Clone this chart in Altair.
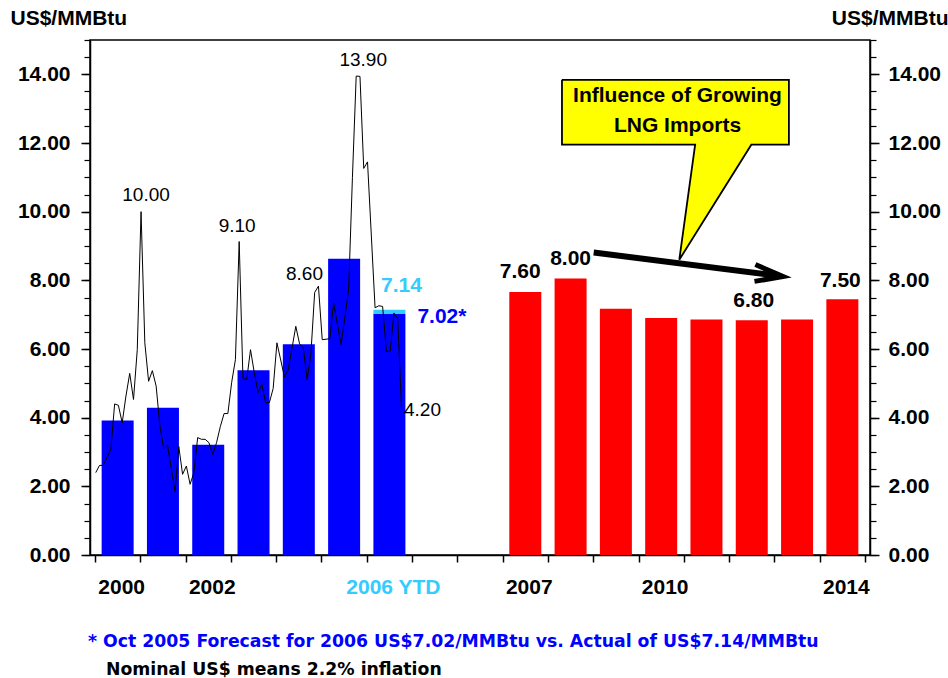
import altair as alt
import pandas as pd

FONT = "Liberation Sans"
FOOT_FONT = "DejaVu Sans"
BLUE = "#0000FF"
RED = "#FF0000"
CYAN = "#33CCFF"
YELLOW = "#FFFF00"

# ---- data ----
actual_years = ["2000", "2001", "2002", "2003", "2004", "2005", "2006 YTD"]
actual_values = [3.92, 4.29, 3.21, 5.38, 6.14, 8.63, 7.02]
actual_2006_final = 7.14

forecast_years = ["2007", "2008", "2009", "2010", "2011", "2012", "2013", "2014"]
forecast_values = [7.66, 8.05, 7.17, 6.90, 6.86, 6.84, 6.86, 7.45]
GAP_SLOTS = 2

# monthly prices, months counted from Jan 2000
month_index = [0, 1, 2, 4, 5, 6, 7, 8, 9, 10, 11, 12, 13, 14, 15, 16, 17, 18, 19,
               21, 22, 23, 24, 25, 26, 27, 28, 29, 30, 31, 32, 33, 34, 35, 36, 37, 38,
               39, 40, 41, 42, 43, 44, 45, 46, 47, 48, 50, 51, 53, 54, 55, 56, 57, 58,
               59, 60, 62, 63, 65, 67, 68, 69, 70, 71, 72, 74, 75, 76, 77, 78, 79, 80, 81]
month_values = [2.40, 2.61, 2.61, 3.08, 4.40, 4.36, 3.85, 4.63, 5.29, 4.53, 5.98, 10.00,
                6.18, 5.06, 5.37, 4.92, 3.76, 3.10, 3.21,
                1.84, 3.16, 2.35, 2.59, 2.06, 2.40, 3.42, 3.37, 3.37, 3.27, 2.93, 3.27,
                3.74, 4.12, 4.12, 5.02, 5.69, 9.13, 5.14, 5.11, 5.98, 5.31, 4.73, 4.97,
                4.44, 4.44, 4.85, 6.18, 5.18, 5.40, 6.66, 6.15, 6.03, 5.11, 5.86, 7.65,
                7.83, 6.27, 6.30, 7.34, 6.13, 7.73, 11.0, 13.95, 13.94, 11.26, 11.45,
                7.20, 7.26, 7.24, 5.93, 5.93, 7.05, 6.88, 4.30]

peak_labels = ["10.00", "9.10", "8.60", "13.90", "4.20"]
peak_months = [12, 38, 59, 69, 81]

forecast_label_years = ["2007", "2008", "2012", "2014"]
forecast_labels = ["7.60", "8.00", "6.80", "7.50"]

tick_label_years = ["2000", "2002", "2006 YTD", "2007", "2010", "2014"]

footnote_1 = "* Oct 2005 Forecast for 2006 US$7.02/MMBtu vs. Actual of US$7.14/MMBtu"
footnote_2 = "Nominal US$ means 2.2% inflation"
callout_text = ["Influence of Growing", "LNG Imports"]
unit_title = "US$/MMBtu"

# ---- tables ----
slot_of = {y: i for i, y in enumerate(actual_years)}
slot_of.update({y: len(actual_years) + GAP_SLOTS + i for i, y in enumerate(forecast_years)})
N_SLOTS = len(actual_years) + GAP_SLOTS + len(forecast_years)

actual_df = pd.DataFrame({"slot": [slot_of[y] for y in actual_years], "value": actual_values})
forecast_df = pd.DataFrame({"slot": [slot_of[y] for y in forecast_years], "value": forecast_values})
cap_df = pd.DataFrame({"slot": [slot_of["2006 YTD"]], "lo": [actual_values[-1]], "hi": [actual_2006_final]})
month_df = pd.DataFrame({"slot": [-0.5 + (m + 0.2) / 12 for m in month_index], "value": month_values})
month_lookup = dict(zip(month_index, month_values))

X = alt.Scale(domain=[-0.5, N_SLOTS - 0.5], nice=False, zero=False)
Y = alt.Scale(domain=[0, 15], nice=False, zero=True)

def xq(axis=None):
    return alt.X("slot:Q", scale=X, axis=axis)

def yq(field="value", axis=None):
    return alt.Y(f"{field}:Q", scale=Y, axis=axis)

x_axis = alt.Axis(values=[-0.5 + i for i in range(N_SLOTS + 1)], labels=False, tickSize=7,
                  tickColor="black", tickWidth=1.5, domainColor="black", domainWidth=1.5,
                  grid=False, title=None)

blue = alt.Chart(actual_df).mark_bar(color=BLUE, size=32).encode(x=xq(x_axis), y=yq())
cap = alt.Chart(cap_df).mark_bar(color=CYAN, size=32).encode(x=xq(), y=yq("lo"), y2="hi:Q")
red = alt.Chart(forecast_df).mark_bar(color=RED, size=32).encode(x=xq(), y=yq())
line = alt.Chart(month_df).mark_line(color="black", strokeWidth=1).encode(x=xq(), y=yq())

# y axes (left and right), carried by invisible layers
def axis_layer(orient, major):
    if major:
        ax = alt.Axis(orient=orient, values=list(range(0, 15, 2)), format=".2f", tickSize=9,
                      tickColor="black", tickWidth=1.5, domainColor="black", domainWidth=1.5,
                      labelFont=FONT, labelFontSize=21, labelFontWeight="bold", labelColor="black",
                      labelPadding=11 if orient == "left" else 9, grid=False,
                      title=unit_title, titleAngle=0, titleFont=FONT, titleFontSize=21,
                      titleFontWeight="bold", titleColor="black",
                      titleX=-80 if orient == "left" else 78, titleY=-22,
                      titleAlign="left" if orient == "left" else "right", titleBaseline="middle")
    else:
        ax = alt.Axis(orient=orient, values=[0.5 * i for i in range(31)], tickSize=6,
                      tickColor="black", tickWidth=1.2, domain=False, labels=False,
                      grid=False, title=None)
    return alt.Chart(actual_df).mark_point(opacity=0).encode(x=xq(), y=yq(axis=ax))

axes = [axis_layer(o, m) for o in ("left", "right") for m in (True, False)]

# x tick labels
tick_df = pd.DataFrame({"slot": [slot_of[y] for y in tick_label_years], "label": tick_label_years})
xlabels = alt.Chart(tick_df).mark_text(font=FONT, fontSize=21, fontWeight="bold", dx=4,
                                       baseline="middle", align="center").encode(
    x=xq(), y=alt.value(548), text="label:N",
    color=alt.condition(alt.datum.label == "2006 YTD", alt.value(CYAN), alt.value("black")))

# peak labels on monthly line
peak_offsets = [(5, -17), (-2, -16), (-14, -12), (7, -16), (21, 3)]
peak_layers = []
for lab, m, (dx, dy) in zip(peak_labels, peak_months, peak_offsets):
    d = pd.DataFrame({"slot": [-0.5 + (m + 0.2) / 12], "value": [month_lookup[m]], "t": [lab]})
    peak_layers.append(alt.Chart(d).mark_text(font=FONT, fontSize=19, color="black", dx=dx, dy=dy,
                                              align="center", baseline="middle").encode(
        x=xq(), y=yq(), text="t:N"))

# bar labels
bar_label_layers = []
fc_offsets = [(-5, -20), (0, -20), (2, -19), (-2, -18)]
for yr, lab, (dx, dy) in zip(forecast_label_years, forecast_labels, fc_offsets):
    d = pd.DataFrame({"slot": [slot_of[yr]], "value": [forecast_values[forecast_years.index(yr)]], "t": [lab]})
    bar_label_layers.append(alt.Chart(d).mark_text(font=FONT, fontSize=21, fontWeight="bold",
                                                   color="black", dx=dx, dy=dy,
                                                   align="center", baseline="middle").encode(
        x=xq(), y=yq(), text="t:N"))

d714 = pd.DataFrame({"slot": [slot_of["2006 YTD"]], "value": [actual_2006_final], "t": [f"{actual_2006_final:.2f}"]})
lab714 = alt.Chart(d714).mark_text(font=FONT, fontSize=21, fontWeight="bold", color=CYAN, dx=12, dy=-24,
                                   align="center", baseline="middle").encode(x=xq(), y=yq(), text="t:N")
d702 = pd.DataFrame({"slot": [slot_of["2006 YTD"]], "value": [actual_values[-1]], "t": [f"{actual_values[-1]:.2f}*"]})
lab702 = alt.Chart(d702).mark_text(font=FONT, fontSize=21, fontWeight="bold", color=BLUE, dx=28, dy=3,
                                   align="left", baseline="middle").encode(x=xq(), y=yq(), text="t:N")

# callout balloon (annotation, in axis units)
callout_df = pd.DataFrame({
    "slot": [9.81, 14.82, 14.82, 13.99, 12.40, 12.75, 9.81, 9.81],
    "value": [13.84, 13.84, 11.95, 11.95, 8.60, 11.95, 11.95, 13.84],
    "o": list(range(8))})
callout = alt.Chart(callout_df).mark_line(fill=YELLOW, stroke="black", strokeWidth=1.8,
                                          strokeJoin="miter").encode(
    x=xq(), y=yq(), order="o:Q")
callout_lbl = alt.Chart(pd.DataFrame({"slot": [12.36], "value": [13.36]})).mark_text(
    text=callout_text, font=FONT, fontSize=21, fontWeight="bold", color="black",
    align="center", baseline="middle", lineHeight=30).encode(x=xq(), y=yq())

arrow_df = pd.DataFrame({"slot": [10.51, 14.55], "value": [8.81, 8.14], "o": [0, 1]})
arrow = alt.Chart(arrow_df).mark_line(color="black", strokeWidth=6, strokeCap="butt").encode(
    x=xq(), y=yq(), order="o:Q")
head_df = pd.DataFrame({"slot": [14.08, 14.69, 14.06], "value": [8.46, 8.11, 7.97], "o": [0, 1, 2]})
head = alt.Chart(head_df).mark_line(color="black", strokeWidth=5, strokeJoin="miter").encode(
    x=xq(), y=yq(), order="o:Q")

one = pd.DataFrame({"a": [0]})
foot1 = alt.Chart(one).mark_text(text=footnote_1, font=FOOT_FONT, fontSize=17.3, fontWeight="bold",
                                 color=BLUE, align="left", baseline="middle").encode(
    x=alt.value(-2), y=alt.value(602))
foot2 = alt.Chart(one).mark_text(text=footnote_2, font=FOOT_FONT, fontSize=17.3, fontWeight="bold",
                                 color="black", align="left", baseline="middle").encode(
    x=alt.value(16), y=alt.value(630))

chart = alt.layer(
    blue, cap, red, line, *axes, xlabels, *peak_layers, *bar_label_layers, lab714, lab702,
    arrow, head, callout, callout_lbl, foot1, foot2
).resolve_scale(x="shared", y="shared").resolve_axis(x="independent", y="independent").properties(
    width=780, height=515,
    autosize=alt.AutoSizeParams(type="none"),
    padding={"left": 90, "top": 40, "right": 78, "bottom": 123},
    background="white",
).configure_view(stroke="black", strokeWidth=1.5)

chart.save("out.html", embed_options={"renderer": "svg", "actions": False})
